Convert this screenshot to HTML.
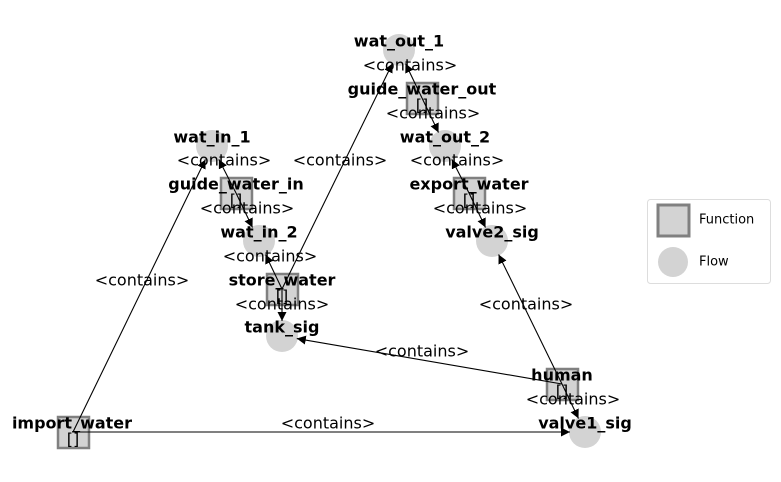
<!DOCTYPE html>
<html><head><meta charset="utf-8"><style>
html,body{margin:0;padding:0;background:#fff}
svg{display:block}
text{font-family:"DejaVu Sans","Liberation Sans",sans-serif}
.b{font-weight:bold;font-size:16px;text-anchor:middle;dominant-baseline:central}
.c{font-size:16px;text-anchor:middle;dominant-baseline:central}
.i{font-size:16px;text-anchor:middle;dominant-baseline:central}
</style></head><body>
<svg id="s" width="781" height="482" viewBox="0 0 781 482" xmlns="http://www.w3.org/2000/svg">
<defs><marker id="a" viewBox="0 0 10 10" refX="10" refY="5" markerWidth="9" markerHeight="9" markerUnits="userSpaceOnUse" orient="auto"><path d="M0,0L10,5L0,10z" fill="#000"/></marker></defs>
<g fill="#d3d3d3">
<circle cx="399" cy="50" r="16"/><circle cx="445" cy="146" r="16"/><circle cx="492" cy="241" r="16"/>
<circle cx="212" cy="146" r="16"/><circle cx="259" cy="241" r="16"/><circle cx="282" cy="336" r="16"/>
<circle cx="585" cy="432" r="16"/>
</g>
<g fill="#d3d3d3" stroke="#808080" stroke-width="2.5">
<rect x="407" y="83" width="31" height="31"/><rect x="454" y="178" width="31" height="31"/>
<rect x="221" y="178" width="31" height="31"/><rect x="267" y="274" width="31" height="31"/>
<rect x="547" y="369" width="31" height="31"/><rect x="58" y="417" width="31" height="31"/>
</g>
<g id="e" stroke="#000" stroke-width="1.1"></g>
<g class="i">
<text x="422" y="105">[]</text><text x="469" y="200">[]</text><text x="236" y="200">[]</text>
<text x="282" y="296">[]</text><text x="562" y="391">[]</text><text x="73" y="439">[]</text>
</g>
<g class="b">
<text x="399" y="41">wat_out_1</text><text x="422" y="89">guide_water_out</text>
<text x="445" y="137">wat_out_2</text><text x="469" y="184">export_water</text>
<text x="492" y="232">valve2_sig</text><text x="212" y="137">wat_in_1</text>
<text x="236" y="184">guide_water_in</text><text x="259" y="232">wat_in_2</text>
<text x="282" y="280">store_water</text><text x="282" y="327">tank_sig</text>
<text x="562" y="375">human</text><text x="585" y="423">valve1_sig</text>
<text x="72" y="423">import_water</text>
</g>
<g class="c">
<text x="410" y="65">&lt;contains&gt;</text><text x="433" y="113">&lt;contains&gt;</text>
<text x="457" y="160">&lt;contains&gt;</text><text x="480" y="208">&lt;contains&gt;</text>
<text x="224" y="160">&lt;contains&gt;</text><text x="247" y="208">&lt;contains&gt;</text>
<text x="270" y="256">&lt;contains&gt;</text><text x="282" y="304">&lt;contains&gt;</text>
<text x="340" y="160">&lt;contains&gt;</text><text x="142" y="280">&lt;contains&gt;</text>
<text x="526" y="304">&lt;contains&gt;</text><text x="422" y="351">&lt;contains&gt;</text>
<text x="573" y="399">&lt;contains&gt;</text><text x="328" y="423">&lt;contains&gt;</text>
</g>
<rect x="647.5" y="199.5" width="123" height="84" rx="3" fill="#fff" stroke="#ddd"/>
<rect x="658" y="205" width="31" height="31" fill="#d3d3d3" stroke="#808080" stroke-width="3"/>
<circle cx="673" cy="262" r="15" fill="#d3d3d3"/>
<text x="699" y="220" font-size="13" dominant-baseline="central">Function</text>
<text x="699" y="262" font-size="13" dominant-baseline="central">Flow</text>
</svg>
<script>
var E=[[422,98,399,50],[422,98,445,146],[469,193,445,146],[469,193,492,241],[236,193,212,146],[236,193,259,241],[282,289,259,241],[282,289,282,336],[282,289,399,50],[562,384,282,336],[562,384,585,432],[562,384,492,241],[73,432,212,146],[73,432,585,432]];
var g=document.getElementById('e');
E.forEach(function(e){var dx=e[2]-e[0],dy=e[3]-e[1],d=Math.hypot(dx,dy),k=(d-15)/d;
var l=document.createElementNS('http://www.w3.org/2000/svg','line');
l.setAttribute('x1',e[0]);l.setAttribute('y1',e[1]);l.setAttribute('x2',e[0]+dx*k);l.setAttribute('y2',e[1]+dy*k);
l.setAttribute('marker-end','url(#a)');g.appendChild(l);});
</script>
</body></html>
